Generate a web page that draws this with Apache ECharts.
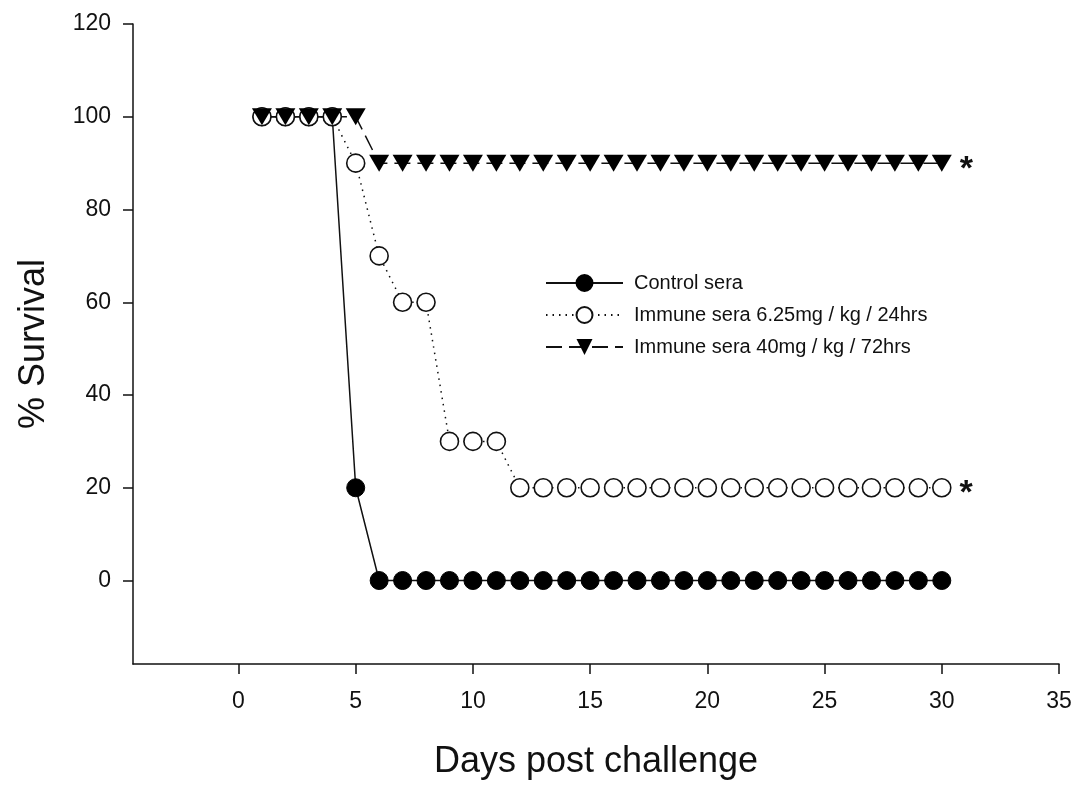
<!DOCTYPE html>
<html>
<head>
<meta charset="utf-8">
<title>Survival</title>
<script src="https://cdn.jsdelivr.net/npm/echarts@6.0.0/dist/echarts.min.js"></script>
<style>
	html, body { margin: 0; padding: 0; background: #fff; overflow: hidden; }
	#chart { width: 1076px; height: 785px; }
</style>
</head>
<body>
<div id="chart"></div>
<script>
// days after challenge
var days = [1, 2, 3, 4, 5, 6, 7, 8, 9, 10, 11, 12, 13, 14, 15, 16, 17, 18, 19, 20, 21, 22, 23, 24, 25, 26, 27, 28, 29, 30];
/* % survival per group */
var controlSera = [100, 100, 100, 100, 20, 0, 0, 0, 0, 0, 0, 0, 0, 0, 0, 0, 0, 0, 0, 0, 0, 0, 0, 0, 0, 0, 0, 0, 0, 0];
var immune625 = [100, 100, 100, 100, 90, 70, 60, 60, 30, 30, 30, 20, 20, 20, 20, 20, 20, 20, 20, 20, 20, 20, 20, 20, 20, 20, 20, 20, 20, 20];
var immune40 = [100, 100, 100, 100, 100, 90, 90, 90, 90, 90, 90, 90, 90, 90, 90, 90, 90, 90, 90, 90, 90, 90, 90, 90, 90, 90, 90, 90, 90, 90];
var seriesNames = ['Control sera', 'Immune sera 6.25mg / kg / 24hrs', 'Immune sera 40mg / kg / 72hrs'];
// groups marked significant
var starred = [false, true, true];
var xTicks = [0, 5, 10, 15, 20, 25, 30, 35];
var yTicks = [0, 20, 40, 60, 80, 100, 120];

window.onload = function() {
	var chart = echarts.init(document.getElementById('chart'), null, { width: 1076, height: 785 });
	var font = 'Liberation Sans, Arial, sans-serif';

	function toData(values, star) {
		var out = [];
		for (var i = 0; i < days.length; i++) {
			var item = { value: [days[i], values[i]] };
			if (star && i == days.length - 1) {
				item.label = {
					show: true,
					position: 'right',
					distance: 8,
					formatter: '*',
					fontSize: 34,
					fontWeight: 'bold',
					fontFamily: font,
					color: '#111',
					offset: [0, 6]
				};
			}
			out.push(item);
		}
		return out;
	}

	var option = {
		animation: false,
		backgroundColor: '#fff',
		grid: {
			left: 133,
			right: 17,
			top: 24,
			bottom: 112
		},
		legend: {
			orient: 'vertical',
			left: 540,
			top: 268,
			itemWidth: 77,
			itemHeight: 20,
			itemGap: 12,
			textStyle: {
				fontSize: 20,
				fontFamily: font,
				color: '#111',
				padding: [0, 0, 0, 6]
			},
			data: seriesNames
		},
		xAxis: {
			type: 'value',
			min: -4.5,
			max: 35,
			name: 'Days post challenge',
			nameLocation: 'middle',
			nameGap: 80,
			nameTextStyle: { fontSize: 36, fontFamily: font, color: '#111' },
			axisLine: { onZero: false, lineStyle: { color: '#111', width: 1.5 } },
			axisTick: { show: true, length: 10, customValues: xTicks, lineStyle: { color: '#111', width: 1.5 } },
			axisLabel: { customValues: xTicks, fontSize: 23, fontFamily: font, color: '#111', margin: 26 },
			splitLine: { show: false }
		},
		yAxis: {
			type: 'value',
			min: -18,
			max: 120,
			name: '% Survival',
			nameLocation: 'middle',
			nameGap: 81,
			nameTextStyle: { fontSize: 36, fontFamily: font, color: '#111' },
			axisLine: { show: true, onZero: false, lineStyle: { color: '#111', width: 1.5 } },
			axisTick: { show: true, length: 10, customValues: yTicks, lineStyle: { color: '#111', width: 1.5 } },
			axisLabel: { customValues: yTicks, fontSize: 23, fontFamily: font, color: '#111', margin: 22 },
			splitLine: { show: false }
		},
		series: [{
				name: seriesNames[0],
				type: 'line',
				symbol: 'circle',
				symbolSize: 18,
				itemStyle: { color: '#000', borderColor: '#000', borderWidth: 1 },
				lineStyle: { color: '#111', width: 1.5, type: 'solid' },
				data: toData(controlSera, starred[0])
			},
			{
				name: seriesNames[1],
				type: 'line',
				symbol: 'circle',
				symbolSize: 18,
				itemStyle: { color: '#fff', borderColor: '#111', borderWidth: 1.6 },
				lineStyle: { color: '#111', width: 1.5, type: [1.5, 5] },
				data: toData(immune625, starred[1])
			},
			{
				name: seriesNames[2],
				type: 'line',
				symbol: 'triangle',
				symbolRotate: 180,
				symbolSize: [20, 17],
				itemStyle: { color: '#000', borderColor: '#000', borderWidth: 0 },
				lineStyle: { color: '#111', width: 1.5, type: [16, 7] },
				data: toData(immune40, starred[2])
			}
		]
	};
	chart.setOption(option);
};
</script>
</body>
</html>
